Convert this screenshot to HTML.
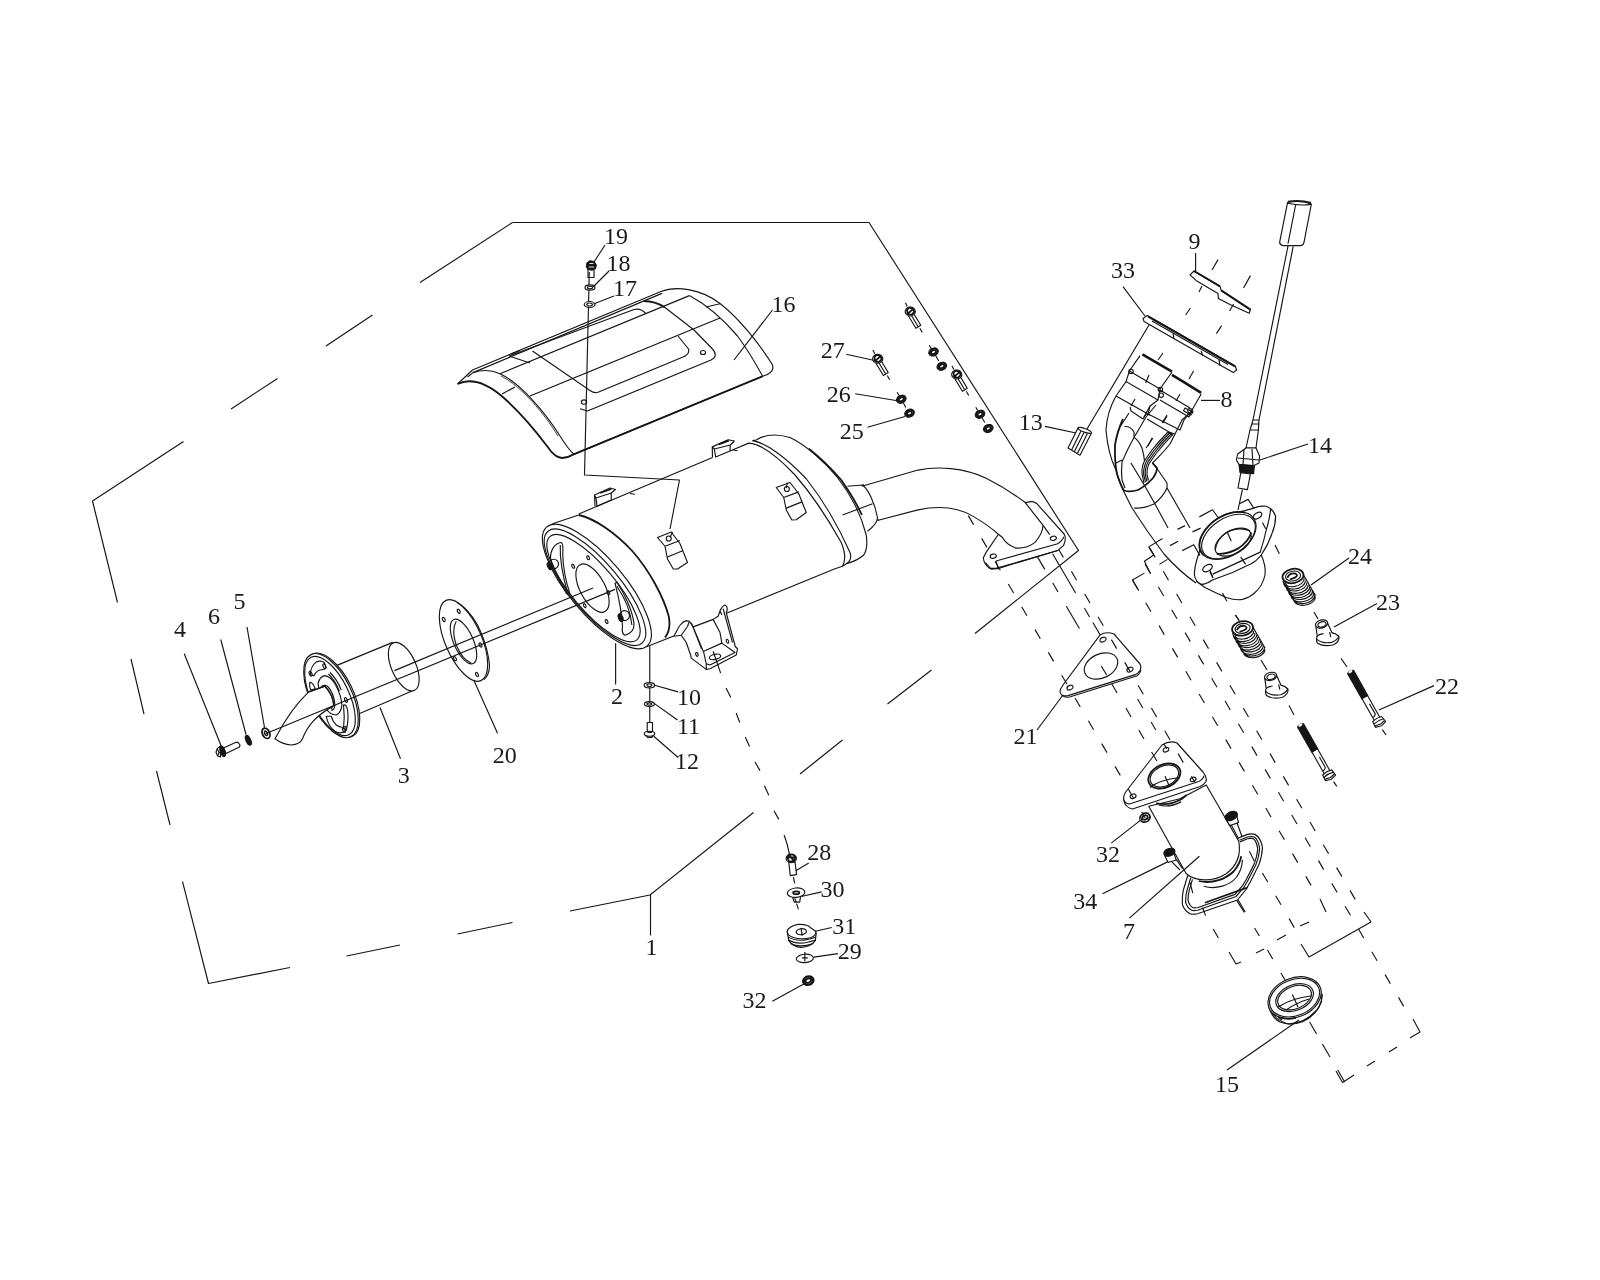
<!DOCTYPE html>
<html><head><meta charset="utf-8"><title>Exhaust assembly</title>
<style>
html,body{margin:0;padding:0;background:#fff;}
body{width:1600px;height:1280px;overflow:hidden;}
svg{display:block;will-change:transform;}
svg *{vector-effect:non-scaling-stroke;fill:none;stroke:#151515;stroke-width:1.15;stroke-linecap:butt;stroke-linejoin:round;}
svg text{fill:#1a1a1a;stroke:none;font-family:"Liberation Serif","Noto Serif CJK SC",serif;font-size:24px;}
svg .w{fill:#fff;}
svg .k{fill:#151515;}
svg .b{stroke-width:1.8;}
svg .t{stroke-width:0.8;}
svg .d{stroke-dasharray:11 6;}
</style></head><body>
<svg width="1600" height="1280" viewBox="0 0 1600 1280">
<!-- assembly boundary frame -->
<g id="frame">
<path d="M512.5,222.5 L869,222.5 L1078.5,550.5 L975,633.5"/>
<path d="M512.5,222.5 L420,282.5 M372.5,315 L326,346 M277.5,378.5 L231,409 M183.5,441.5 L92.5,501 L117.5,602.5 M131,659 L144,714 M156.5,771 L170,825 M182.5,881.5 L208.5,983.5 L290,967.5 M346.5,956 L400,945 M457.5,934 L512.5,922.5 M570,911 L650,895 L753.5,812.5 M800,774 L842.5,740 M887.5,704 L931.5,670"/>
<path d="M650.5,895 L650.5,935.5"/>
</g>
<!-- heat shield 16 and fasteners 17-19 -->
<g id="shield">
<path d="M457.5,384 Q464,378 472.5,370 L661,291.5 C675,286 700,288 720,303.5 C740,319 760,345 772,364 Q776,372 762.5,376.3 L573,454.6"/>
<path class="b" d="M573,454.6 L762.5,376.3"/>
<path d="M467.5,377 L473,372.6 L662,293.4"/>
<path d="M473,372.6 Q487,368 500,373.7 C520,383 545,412 560,436 Q568,449 573.7,454"/>
<path class="b" d="M457.5,384 C470,378 486,382 504,398 C524,416 538,434 547,446 Q555,458 562,458 Q568,458 573,454.6"/>
<path class="t" d="M501,376 C521,386 544,413 558,436"/>
<path d="M500,373.7 L689.4,295.6"/>
<path d="M530,396 L720,318 M502,394 L515,387 M706,307 L720,303.7"/>
<path d="M689.4,295.6 C705,304 722,318 737.5,336 C748,350 757,366 762.5,376"/>
<path d="M509,356 L634,309.5 Q641,308 646,313.7 M509,356 L530,363 M511,354 L520,350.5"/>
<path class="b" d="M643.7,301 Q655,301 665,307.5"/>
<path d="M665,307.5 L694,330 L712.5,349 Q717,354 714,358 L711,360 L587.5,411 L580,408.7"/>
<path d="M532.5,351 L590,390.5 Q594,393.5 598,392.3 L683,357 Q690,354 688.5,349 L678,336"/>
<ellipse cx="703" cy="352.5" rx="2.6" ry="2"/>
<ellipse cx="584" cy="402" rx="2.6" ry="2.2"/>
<!-- bolt 19, washers 18 17 -->
<path d="M589.3,272 L584.5,475 L679.5,480 L670,529"/>
<path class="k" d="M587,263 L590,260.8 L594,261.5 L596.3,265 L595.5,268.5 L592,270.3 L588,269.5 L586.3,266.5 Z"/>
<path d="M589.5,263.5 L593.5,263.5 M588.7,267 L594,267" style="stroke:#fff;stroke-width:.9"/>
<path d="M588,269.5 L588,277.5 L594,277.5 L594,269.5"/>
<ellipse class="w" cx="590" cy="287.5" rx="5" ry="2.6"/>
<ellipse cx="590" cy="287.5" rx="2.6" ry="1.3"/>
<ellipse class="w" cx="589.6" cy="304.5" rx="5.4" ry="3"/>
<ellipse cx="589.6" cy="304.5" rx="2.8" ry="1.5"/>
<path d="M605,245 L594,262 M609,271 L593,287 M614,296 L593.5,304 M772.5,310 L734,360"/>
</g>
<!-- muffler 2 front face (coords in 8x tile, origin 520,500) -->
<g id="muffler-front" transform="translate(520,500) scale(.125)">
<ellipse cx="615" cy="692" rx="623" ry="222" transform="rotate(50 615 692)"/>
<ellipse cx="600" cy="698" rx="585" ry="198" transform="rotate(50 600 698)"/>
<ellipse cx="588" cy="705" rx="540" ry="176" transform="rotate(50 588 705)"/>
<path class="b" d="M470,120 C600,150 760,260 900,410 C1040,570 1150,780 1190,930 Q1210,1040 1160,1100"/>
<path d="M260,190 L470,120 M1230,1088 L1008,1176"/>
<ellipse cx="580" cy="705" rx="212" ry="100" transform="rotate(62 580 705)"/>
<ellipse cx="545" cy="462" rx="9" ry="17" transform="rotate(-25 545 462)"/>
<ellipse cx="425" cy="530" rx="9" ry="17" transform="rotate(-25 425 530)"/>
<ellipse cx="707" cy="740" rx="9" ry="17" transform="rotate(-25 707 740)"/>
<ellipse cx="518" cy="845" rx="9" ry="17" transform="rotate(-25 518 845)"/>
<ellipse cx="693" cy="972" rx="9" ry="17" transform="rotate(-25 693 972)"/>
<path d="M245,470 C240,400 280,345 330,340 Q348,345 342,440 C345,540 370,660 397,742 L385,756 L370,746 C335,670 270,560 245,470 Z"/>
<path d="M322,360 C318,470 345,620 383,750"/>
<path d="M760,665 L776,660 C830,740 900,880 912,990 Q915,1060 840,1082 Q810,1070 820,1010 C815,900 790,780 760,665 Z"/>
<path d="M775,690 C830,770 885,890 895,1000"/>
<circle cx="270" cy="512" r="38"/>
<ellipse class="k" cx="238" cy="528" rx="17" ry="30" transform="rotate(-25 238 528)"/>
<circle cx="836" cy="925" r="40"/>
<ellipse class="k" cx="805" cy="942" rx="17" ry="32" transform="rotate(-25 805 942)"/>
</g>
<!-- muffler body rear end (coords in 8x tile, origin 700,420) -->
<g id="muffler-rear" transform="translate(700,420) scale(.125)">
<path d="M-970,752 L100,300 M240,248 L390,185 C480,190 600,270 760,440 C900,600 1040,820 1130,980 Q1180,1100 1140,1170 L1080,1190 L212,1546"/>
<path d="M420,165 C520,180 680,290 850,470 C1000,660 1120,880 1200,1060 Q1220,1120 1170,1150 L1140,1170"/>
<path d="M420,165 L450,160 C520,115 600,105 720,140 C850,200 1000,340 1100,460 C1200,590 1290,760 1330,920 Q1345,1030 1310,1080 Q1260,1125 1170,1150"/>
<path class="b" d="M870,230 C960,300 1060,400 1130,480 C1200,580 1260,680 1295,760"/>
<path d="M1180,530 L1300,520 C1350,560 1400,670 1420,780 Q1420,830 1340,890 M1140,760 L1380,670"/>
<path d="M1300,520 L1310,517 M1420,800 L1430,797"/>
<!-- side bracket rear -->
<path d="M610,540 L720,500 L790,590 L810,640 L850,740 L770,798 L735,800 L690,720 L670,620 Z M670,620 L790,575 M690,705 L815,655 M700,500 L690,545"/>
<circle cx="695" cy="552" r="20"/>
<!-- top clip rear -->
<path d="M100,300 L98,215 L225,158 L275,168 L242,200 L240,248 L125,296 L115,232 L242,200 M115,232 L98,215"/>
<path class="b" d="M150,195 L230,165"/>
<path d="M265,240 L300,246"/>
</g>
<!-- top clip front, side bracket front (4x tile origin 500,420) -->
<g transform="translate(500,420) scale(.25)">
<path d="M380,345 L378,300 L440,272 L462,278 L445,292 L445,320 L388,345 L384,312 L445,292 M384,312 L378,300"/>
<path class="b" d="M400,292 L445,276"/>
<path d="M520,294 L540,297"/>
<path d="M630,470 L685,448 L720,495 L730,520 L750,570 L710,596 L693,596 L670,556 L660,505 Z M660,505 L720,482 M670,548 L733,522 M690,448 L680,470"/>
<circle cx="675" cy="474" r="10"/>
</g>
<!-- bottom bracket, washers 10 11, bolt 12 (8x tile origin 600,590) -->
<g id="muffler-bottom" transform="translate(600,590) scale(.125)">
<path d="M125,425 L125,755 M398,450 L398,1150"/>
<ellipse class="w" cx="395" cy="762" rx="42" ry="21"/><ellipse cx="395" cy="762" rx="20" ry="10"/>
<ellipse class="w" cx="395" cy="912" rx="40" ry="19"/><ellipse cx="395" cy="912" rx="19" ry="9"/>
<path class="w" d="M378,1060 L420,1060 L420,1135 L378,1135 Z"/>
<ellipse class="w" cx="396" cy="1150" rx="42" ry="20"/>
<path d="M365,1160 L380,1180 L415,1180 L430,1160 M380,1140 L415,1140"/>
<path d="M430,760 L625,815 M430,905 L620,1040 M430,1170 L625,1340"/>
<!-- bracket -->
<path d="M590,370 C610,340 625,300 640,282 Q665,250 690,245 L715,250 L700,292 L650,362 Z"/>
<path d="M650,362 L690,420 L725,520 L730,545 L850,635 L880,630 L1090,520 L1100,470 L1082,452 L1010,182 Q1030,135 1000,120 Q975,130 960,168 L945,210 L905,235 L745,295 L715,250"/>
<path d="M745,295 L780,380 L830,500 L850,590 L850,635 M730,262 L765,350 L812,470"/>
<path d="M905,235 L960,340 L975,425 L830,490 M975,425 L1080,500 L880,600 L850,590 M985,150 L1060,420 M962,170 L975,200"/>
<ellipse cx="920" cy="535" rx="46" ry="20" transform="rotate(-12 920 535)"/>
<ellipse cx="775" cy="515" rx="9" ry="16" transform="rotate(-20 775 515)"/>
<ellipse cx="1020" cy="410" rx="9" ry="16" transform="rotate(-20 1020 410)"/>
<path d="M905,490 L965,665"/>
</g>
<!-- silencer 3 (8x tile origin 260,630) -->
<g id="silencer" transform="translate(260,630) scale(.125)">
<path d="M610,285 L1062,99 M765,682 L1212,490"/>
<ellipse cx="1150" cy="293" rx="208" ry="98" transform="rotate(66 1150 293)"/>
<ellipse class="w" cx="580" cy="521" rx="365" ry="165" transform="rotate(64 580 521)"/>
<ellipse class="w" cx="568" cy="525" rx="365" ry="165" transform="rotate(64 568 525)"/>
<ellipse cx="560" cy="528" rx="345" ry="150" transform="rotate(64 560 528)"/>
<!-- cutouts -->
<path d="M402,360 Q405,290 450,255 Q490,240 515,262 L528,300 Q515,320 490,318 Q455,320 432,365 Z"/>
<path d="M398,420 Q420,415 442,470 L405,480 Q392,450 398,420 Z"/>
<path d="M530,690 Q545,770 600,810 Q650,840 690,800 L688,770 Q650,790 610,760 Q580,730 570,690 Z"/>
<path d="M668,600 Q690,590 700,640 Q712,720 690,800 L668,790 Q680,700 668,600 Z"/>
<path d="M560,340 Q620,400 650,480 M548,352 Q605,410 635,490"/>
<path class="b" d="M590,440 Q620,490 640,545"/>
<ellipse cx="515" cy="290" rx="10" ry="20" transform="rotate(-25 515 290)"/>
<ellipse cx="405" cy="350" rx="10" ry="20" transform="rotate(-25 405 350)"/>
<ellipse cx="688" cy="560" rx="10" ry="20" transform="rotate(-25 688 560)"/>
<ellipse cx="672" cy="800" rx="10" ry="20" transform="rotate(-25 672 800)"/>
<!-- hub -->
<path class="w" d="M465,425 Q480,370 520,365 Q560,370 600,430 Q650,520 655,600 Q650,660 610,680 Q560,680 520,620 Q470,520 465,425 Z"/>
<path d="M480,470 Q500,430 540,450 Q590,500 600,600 Q595,640 570,645"/>
<path d="M500,455 Q545,470 575,560 Q585,610 570,635"/>
<!-- curved tip -->
<path class="w" d="M520,450 L390,495 C320,560 220,680 120,870 Q180,915 250,920 Q320,915 340,870 C380,770 440,690 590,605 Q585,520 520,450 Z"/>
<path d="M390,495 L520,450 Q585,520 590,605"/>
</g>
<!-- gasket 20 (4x tile origin 160,560) -->
<g id="gasket20" transform="translate(160,560) scale(.25)">
<ellipse cx="1214" cy="322" rx="175" ry="73" transform="rotate(66.5 1214 322)"/>
<path d="M1188,170 Q1230,190 1270,260 Q1310,340 1318,420 Q1318,460 1296,478"/>
<ellipse cx="1214" cy="326" rx="96" ry="39" transform="rotate(66 1214 326)"/>
<path d="M1185,245 Q1165,280 1185,340 Q1210,400 1245,412"/>
<ellipse cx="1195" cy="205" rx="5" ry="9" transform="rotate(-25 1195 205)"/>
<ellipse cx="1135" cy="238" rx="5" ry="9" transform="rotate(-25 1135 238)"/>
<ellipse cx="1282" cy="340" rx="5" ry="9" transform="rotate(-25 1282 340)"/>
<ellipse cx="1180" cy="395" rx="5" ry="9" transform="rotate(-25 1180 395)"/>
<ellipse cx="1268" cy="458" rx="5" ry="9" transform="rotate(-25 1268 458)"/>
<path d="M97,375 L244,742 M243,318 L344,698 M348,268 L418,670 M880,590 L962,795 M1255,480 L1350,693"/>
</g>
<!-- bolt 4, washer 6, nut 5 (full coords) -->
<path class="w" d="M223.5,748 L236,742.3 L238,742.3 L240,745 L239.5,747 L226,753.6 Z"/>
<path class="w" d="M220.5,746 L217.2,748.6 L216,752.2 L217.6,756 L220.5,757 Z"/>
<path d="M217.2,748.6 L219,752.5 L217.6,756 M219,752.5 L221,752.5"/>
<ellipse class="k" cx="222.6" cy="751.2" rx="2.3" ry="5.6" transform="rotate(-18 222.6 751.2)"/>
<ellipse class="k" cx="248.3" cy="740.3" rx="2.3" ry="5.3" transform="rotate(-25 248.3 740.3)"/>
<ellipse class="w" cx="266" cy="733.3" rx="3.6" ry="5.4" transform="rotate(-25 266 733.3)" style="stroke-width:1.8"/>
<ellipse cx="266" cy="733.3" rx="1.3" ry="2.4" transform="rotate(-25 266 733.3)" style="stroke-width:1.4"/>
<!-- outlet pipe + flange of muffler (6.154x tile origin 840,440) -->
<g id="outlet" transform="translate(840,440) scale(.1625)">
<path d="M135,285 L480,185 C600,160 760,170 900,235 C1000,285 1080,340 1140,385 L1185,378 L1210,390 L1380,580 Q1395,610 1375,650 L1340,680 L960,790 L920,790 Q885,765 882,725 L900,690 L975,580"/>
<path d="M230,495 L480,430 C600,405 720,410 820,470 Q920,530 975,580 L1000,600 Q1020,640 1080,665 Q1150,670 1200,630 Q1245,580 1250,525 L1140,385"/>
<path d="M1250,525 L1290,582 M895,755 L930,795 L975,790 L1340,680 M960,745 L1335,640 Q1365,625 1378,595 M960,745 L975,795"/>
<ellipse cx="943" cy="715" rx="19" ry="13" transform="rotate(-15 943 715)"/>
<ellipse cx="1313" cy="605" rx="19" ry="13" transform="rotate(-15 1313 605)"/>
</g>
<!-- fasteners 25 26 27 and their duplicates (6.667x tile origin 800,280) -->
<g id="fasteners25" transform="translate(800,280) scale(.15)">
<defs>
<g id="bolt27"><path class="w" d="M-12,30 L38,112 L70,92 L22,12 Z"/><path d="M5,22 L52,100"/><ellipse class="w" cx="0" cy="0" rx="34" ry="30"/><path class="b" d="M-22,-14 L-4,-26 L20,-18 L26,4 L8,22 L-18,16 Z M-18,16 L20,-18"/><path d="M-32,-58 L-20,-34 M64,112 L80,140"/></g>
<g id="nut26"><ellipse class="w" cx="0" cy="0" rx="33" ry="25" transform="rotate(-25)"/><ellipse class="b" cx="0" cy="0" rx="17" ry="12" transform="rotate(-25)"/><path class="b" d="M-26,8 L-18,-16 L10,-24 L28,-8 L18,14 L-8,22 Z"/></g>
</defs>
<use href="#bolt27" x="735" y="210"/>
<use href="#bolt27" x="518" y="525"/>
<use href="#bolt27" x="1045" y="630"/>
<use href="#nut26" x="890" y="480"/><use href="#nut26" x="945" y="575"/>
<use href="#nut26" x="675" y="795"/><use href="#nut26" x="730" y="888"/>
<use href="#nut26" x="1200" y="895"/><use href="#nut26" x="1255" y="990"/>
<path d="M862,435 L875,458 M905,505 L925,540 M648,748 L660,770 M690,822 L705,850 M1172,848 L1185,870 M1215,922 L1232,950"/>
<path d="M308,495 L490,535 M368,758 L650,805 M450,982 L700,910"/>
</g>
<!-- parts 8 9 33 13 14 (5x tile origin 1020,190) -->
<g id="headpipe" transform="translate(1020,190) scale(.2)">
<!-- 14 connector + wire -->
<path class="w" d="M1338,62 L1298,262 Q1300,276 1315,278 L1405,278 Q1418,275 1420,262 L1457,70 Q1400,50 1338,62 Z"/>
<path class="b" d="M1340,58 Q1400,48 1455,64"/>
<path d="M1340,66 Q1400,80 1455,72 M1378,75 L1340,268"/>
<path d="M1340,280 L1165,1150 M1366,282 L1195,1150"/>
<!-- sensor body -->
<path class="w" d="M1165,1150 L1195,1150 L1192,1200 L1180,1290 L1130,1290 L1150,1200 Z"/>
<path d="M1150,1200 L1192,1200 M1160,1170 L1196,1170"/>
<path class="w" d="M1088,1320 L1130,1290 L1180,1290 L1198,1330 L1195,1365 L1170,1378 L1095,1372 L1082,1350 Z"/>
<path d="M1088,1340 L1195,1350 M1120,1295 L1115,1372 M1160,1295 L1165,1376"/>
<path class="k" d="M1095,1374 L1172,1380 L1168,1418 L1100,1412 Z"/>
<path class="w" d="M1104,1414 L1152,1420 L1137,1498 L1090,1490 Z"/>
<path d="M1112,1498 L1090,1600"/>
<path d="M1200,1350 L1440,1270"/>
<!-- part 9 -->
<path class="w" d="M850,424 L870,405 L1000,482 L1006,502 L1152,598 L1146,616 L1050,572 L992,542 L990,518 L880,452 Z"/>
<path style="stroke-width:2" d="M870,405 L1000,482 M1006,502 L1152,598"/>
<path d="M878,315 L878,405"/>
<path d="M990,348 L960,400 M1152,428 L1118,490 M910,480 L895,510 M1068,570 L1048,605 M852,590 L828,625 M1008,678 L982,718"/>
<!-- part 33 -->
<path class="w" d="M615,642 L636,628 L1076,880 L1083,900 L1066,913 L620,657 Z"/>
<path style="stroke-width:2.2" d="M640,632 L1075,882"/>
<path d="M660,655 L1040,872 M700,665 L1000,838 M765,715 L770,745 M905,805 L915,830 M995,850 L1000,880"/>
<path d="M515,483 L625,630 M645,675 L335,1195"/>
<!-- part 13 -->
<path class="w" d="M290,1190 L240,1290 L300,1326 L356,1218 Z"/>
<ellipse class="w" cx="324" cy="1202" rx="36" ry="9" transform="rotate(20 324 1202)"/>
<path d="M305,1205 L258,1300 M320,1212 L272,1308 M337,1218 L287,1318"/>
<path d="M125,1182 L280,1215"/>
<!-- part 8 : twin pipes -->
<path style="stroke-width:2.6" d="M612,822 L760,908 M760,924 L906,1014"/>
<path d="M600,828 L547,905 L530,958 L480,1030 Q435,1110 430,1200 Q440,1320 480,1400 Q500,1470 520,1510 L560,1590 L640,1710 L720,1820 Q800,1910 880,1965"/>
<path d="M760,910 L700,995 L690,1050 L650,1080 L620,1135 M906,1020 L860,1100 L820,1150"/>
<path d="M547,905 L700,995 M530,958 L690,1050 M480,1030 L640,1120 L650,1080 M700,1000 L850,1090 M700,1050 L845,1135 L860,1100 M640,1120 L800,1200 L820,1150"/>
<circle cx="555" cy="907" r="11"/><circle cx="702" cy="997" r="11"/><circle cx="706" cy="1026" r="11"/><circle cx="850" cy="1104" r="11"/>
<path d="M905,1052 L1000,1052"/>
<path d="M715,815 L690,850 M645,925 L628,965 M868,905 L845,945 M800,1020 L780,1055 M575,1045 L555,1080 M735,1130 L715,1165 M660,1240 L640,1280"/>
</g>
<!-- collector detail (10x tile origin 1090,400) -->
<g id="collector" transform="translate(1090,400) scale(.1)">
<path class="b" d="M330,190 Q270,320 250,450 Q245,620 270,740 Q300,840 340,905 Q400,925 480,900 Q570,850 630,780 Q670,720 670,680 L625,630"/>
<path d="M390,130 L300,270 M345,265 Q410,262 440,320 L440,375 M320,600 L250,635"/>
<path d="M660,50 L560,170 L440,375 Q370,500 320,620 Q310,720 320,800 L350,880"/>
<path d="M440,375 Q480,395 520,480 Q540,550 545,610"/>
<path d="M780,320 Q690,410 620,500 L550,600 Q515,660 520,740 L540,830 M795,330 Q705,420 635,510 L565,612 Q533,668 536,745 L555,822 M810,340 Q720,430 650,520 L580,622 Q550,672 552,745 L570,815 M825,348 Q735,440 665,530 L595,630 Q568,676 570,745 L585,805"/>
<path class="b" d="M780,320 L830,350"/>
<path d="M1030,100 L920,200 L850,340 L800,440 Q720,540 625,630 L680,700 L770,830 L770,880 L1000,1280"/>
<path d="M400,70 L410,110 L530,190 L560,140 L600,150 M570,190 L790,320 L850,340 M950,80 L1030,120 L1010,150 L935,108 Z"/>
<path d="M440,1080 Q530,1090 640,1040 Q730,970 770,880"/>
<path d="M410,630 L560,880 L650,1040 L780,1280 M560,480 L630,380 M720,230 L770,150"/>
</g>
<!-- head pipe lower flange + cup (8x tile origin 1120,480) -->
<g id="headflange" transform="translate(1120,480) scale(.125)">
<path d="M935,258 L1000,245 L1070,225 Q1110,205 1170,210 Q1225,230 1245,290 Q1245,360 1215,430 Q1185,520 1130,600 Q1090,650 1050,670 L900,740 L740,800 Q690,835 650,835 Q605,815 595,760 Q595,700 620,620 L640,560"/>
<path d="M1205,225 Q1200,300 1170,400 Q1150,490 1122,577 L742,753 M720,722 L742,780"/>
<path d="M610,810 L680,860 Q780,910 850,940 Q930,965 980,955 Q1040,940 1080,900 Q1140,850 1160,760 Q1170,690 1130,600"/>
<ellipse cx="862" cy="445" rx="250" ry="158" transform="rotate(-33 862 445)"/>
<path class="b" d="M670,602 A250,158 -33 0 1 1001,261"/>
<ellipse cx="868" cy="452" rx="238" ry="146" transform="rotate(-33 868 452)"/>
<ellipse cx="905" cy="497" rx="158" ry="92" transform="rotate(-30 905 497)"/>
<path class="b" d="M775,590 Q850,600 950,545 Q1030,490 1050,420"/>
<path d="M762,560 Q770,480 850,420 Q940,370 1040,405"/>
<ellipse cx="1100" cy="285" rx="38" ry="22" transform="rotate(-30 1100 285)"/>
<ellipse cx="700" cy="705" rx="42" ry="24" transform="rotate(-30 700 705)"/>
<!-- step lines -->
<path d="M955,190 L1025,155 L1070,225 M635,295 L740,238 L785,300 M460,395 L520,365 M580,415 L645,385 M340,468 L230,535 L270,600 L195,650 L245,750 M400,525 L465,490 M498,565 L590,518 L640,605 M315,675 L380,635 M195,745 L100,800 L150,885"/>
<path d="M820,905 L855,970 M925,1080 L955,1130 M1240,520 L1275,590 M1140,340 L1165,390 M965,615 L1005,675 M860,420 L890,490 M720,735 L745,785"/>
</g>
<!-- springs 24, collars 23, bolts 22 (5x tile origin 1200,540) -->
<g id="springs" transform="translate(1200,540) scale(.2)">
<defs>
<g id="spring24">
<path class="w" d="M-52,5 L13,110 L118,100 L52,-5 Z" style="stroke:none"/>
<path d="M-50,26 A52,36 -12 0 0 56,12 M-46,38 A52,36 -12 0 0 62,24 M-38,48 A52,36 -12 0 0 70,34 M-34,60 A52,36 -12 0 0 76,46 M-26,70 A52,36 -12 0 0 84,56 M-22,82 A52,36 -12 0 0 90,68 M-14,92 A52,36 -12 0 0 98,78 M-10,104 A52,36 -12 0 0 104,90 M-2,114 A52,36 -12 0 0 110,100 M4,124 A50,34 -12 0 0 112,112"/>
<path d="M-52,6 L-2,114 M52,-6 L112,104"/>
<ellipse class="w b" cx="0" cy="0" rx="53" ry="38" transform="rotate(-12)"/>
<ellipse cx="0" cy="0" rx="38" ry="26" transform="rotate(-12)"/>
<path class="b" d="M-28,10 Q-20,-16 8,-14 Q28,-6 14,6 Q-4,16 -16,18"/>
</g>
<g id="collar23">
<path class="w" d="M-30,2 L-22,60 Q-30,80 -20,96 Q10,116 60,104 Q92,86 86,62 Q70,46 52,44 L30,-4 Z"/>
<ellipse class="w" cx="0" cy="0" rx="31" ry="20" transform="rotate(-15)"/>
<ellipse cx="2" cy="2" rx="21" ry="13" transform="rotate(-15 2 2)"/>
<path d="M-22,60 Q-10,50 10,48 M52,44 Q70,46 86,62 M-26,74 Q0,100 50,92 Q80,80 86,62 M40,40 L46,66"/>
</g>
<g id="bolt22">
<path class="w" d="M148,-16 L280,-16 L280,16 L148,16 Z"/>
<path class="k" d="M6,-17 L150,-17 L150,17 L6,17 Q-6,0 6,-17 Z"/>
<ellipse class="w" cx="4" cy="0" rx="6" ry="11" style="stroke:none"/>
<path d="M190,-4 L250,-4 L258,6 L258,14"/>
<path class="w" d="M276,-26 L308,-30 L316,-2 L308,28 L276,26 Q268,0 276,-26 Z"/>
<path d="M290,-28 Q282,0 290,27 M300,-29 L306,-2 L300,28"/>
</g>
</defs>
<use href="#spring24" transform="translate(465,180) scale(1,.94)"/>
<use href="#spring24" transform="translate(213,442) scale(1,.94)"/>
<use href="#collar23" x="608" y="420"/>
<use href="#collar23" x="353" y="682"/>
<use href="#bolt22" transform="translate(750,655) rotate(60.5)"/>
<use href="#bolt22" transform="translate(500,922) rotate(60.5)"/>
<path d="M570,360 L590,395 M705,592 L735,635 M912,948 L930,975 M175,375 L195,400 M305,600 L335,650 M445,828 L470,875 M668,1208 L684,1232"/>
<path d="M745,90 L555,225 M885,318 L670,435 M1170,728 L895,850"/>
</g>
<!-- gasket 21 + part 7 upper flange (5x tile origin 960,580) -->
<g id="gasket21" transform="translate(960,580) scale(.2)">
<path class="w" d="M700,275 Q730,255 770,270 L900,420 Q912,445 890,465 L880,472 L540,578 Q505,585 500,560 Q500,545 515,525 Z"/>
<path d="M508,574 Q525,590 548,585 L886,479 Q902,468 905,450"/>
<ellipse cx="705" cy="430" rx="88" ry="60" transform="rotate(-25 705 430)"/>
<ellipse cx="715" cy="298" rx="16" ry="11" transform="rotate(-25 715 298)"/>
<ellipse cx="850" cy="448" rx="16" ry="11" transform="rotate(-25 850 448)"/>
<ellipse cx="550" cy="538" rx="16" ry="11" transform="rotate(-25 550 538)"/>
<path d="M385,750 L515,575"/>
</g>
<!-- part 7 body (8x tile origin 1100,770) -->
<g id="part7" transform="translate(1100,770) scale(.125)">
<!-- lower flange ring -->
<path class="w" d="M1105,545 L1180,515 Q1215,508 1240,515 Q1285,540 1300,620 Q1295,700 1270,760 L1200,900 L1165,960 L1100,1040 L780,1150 Q740,1158 720,1150 Q680,1130 660,1080 Q655,1000 670,950 L700,850 Z"/>
<path d="M1115,562 L1180,536 Q1212,530 1235,536 Q1268,560 1277,630 Q1272,700 1246,760 L1180,890 L1150,940 L1088,1012 L780,1122 Q745,1128 730,1120 Q700,1105 685,1060 Q683,1000 700,950 L726,862"/>
<path d="M1120,575 L1180,550 Q1210,545 1228,550 Q1255,575 1262,635 Q1255,700 1232,755 L1168,880 L1140,925 L1080,995 L785,1100 Q750,1105 740,1100 Q715,1085 705,1050 Q703,1000 716,955 L740,875"/>
<path class="b" d="M1180,940 L900,1040 L840,1062"/>
<path d="M1195,650 L1235,730 M720,900 L742,985 M820,1100 L845,1165 M1095,1045 L1155,1140"/>
<!-- tube -->
<path class="w" d="M390,290 L690,830 C760,890 900,900 1010,830 C1090,770 1130,680 1110,570 L850,120 L640,230 Z"/>
<path class="b" d="M790,888 C900,915 1010,870 1070,810 Q1120,750 1130,690"/>
<path d="M830,930 C930,960 1040,920 1090,860 Q1135,800 1140,720"/>
<!-- upper flange -->
<path class="w" d="M496,-200 Q560,-240 616,-216 L824,16 Q858,60 848,92 Q830,120 800,132 L260,312 Q200,300 190,240 Q182,200 225,150 Z"/>
<ellipse cx="528" cy="-163" rx="24" ry="17" transform="rotate(-25 528 -163)"/>
<path d="M192,242 Q205,270 235,272 L790,92 Q825,75 832,45"/>
<path class="b" d="M450,265 Q540,290 640,240 Q680,215 692,198"/>
<path d="M470,280 Q550,305 650,255"/>
<ellipse cx="745" cy="75" rx="24" ry="17" transform="rotate(-25 745 75)"/>
<ellipse cx="265" cy="210" rx="24" ry="17" transform="rotate(-25 265 210)"/>
<ellipse class="b" cx="515" cy="48" rx="135" ry="92" transform="rotate(-25 515 48)"/>
<ellipse cx="515" cy="48" rx="120" ry="80" transform="rotate(-25 515 48)"/>
<path d="M400,140 Q470,80 640,60 M520,50 L555,130"/>
<!-- nut 32 -->
<ellipse class="w" cx="360" cy="382" rx="44" ry="36" transform="rotate(-25 360 382)"/>
<ellipse class="b" cx="360" cy="380" rx="22" ry="17" transform="rotate(-25 360 380)"/>
<path d="M322,372 L345,345 L385,345 L400,375 L382,412 L340,415 Z M320,405 L90,585"/>
<!-- bolt 34 left -->
<path class="w" d="M520,690 L545,740 L610,720 L590,665 Z"/>
<path d="M575,735 L640,800 M610,715 L660,790"/>
<ellipse class="k" cx="555" cy="658" rx="46" ry="30" transform="rotate(-20 555 658)"/>
<path d="M540,735 L20,990"/>
<!-- bolt right -->
<path class="w" d="M1010,400 L1040,445 L1108,420 L1095,370 Z"/>
<path d="M1050,440 L1108,548 M1095,420 L1135,530"/>
<ellipse class="k" cx="1050" cy="368" rx="52" ry="34" transform="rotate(-25 1050 368)"/>
<path d="M795,690 L235,1185"/>
</g>
<!-- parts 28 30 31 29 32 (6.4x tile origin 720,820) -->
<g id="mount28" transform="translate(720,820) scale(.15625)">
<path d="M410,96 Q432,150 445,222"/>
<path class="w" d="M440,272 L450,356 L490,350 L480,268 Z"/>
<ellipse class="w" cx="456" cy="246" rx="33" ry="27"/>
<path class="b" d="M430,238 L442,222 L470,222 L484,240 L474,264 L442,266 Z M442,222 L474,264 M430,238 L484,240"/>
<path d="M470,365 L478,405 M568,275 L485,325"/>
<path class="w" d="M462,488 L475,526 L510,526 L516,488 Z"/>
<ellipse class="w" cx="487" cy="465" rx="56" ry="30" transform="rotate(-5 487 465)"/>
<ellipse class="b" cx="488" cy="466" rx="20" ry="9"/>
<path d="M478,500 L488,526 M490,535 L502,572 M650,460 L520,490"/>
<path class="w" d="M430,715 L440,772 Q470,815 520,815 Q580,812 610,772 L616,722 Z"/>
<path d="M436,748 Q500,790 612,750 M440,768 Q505,808 610,768 M452,790 Q510,822 598,790"/>
<path class="w" d="M430,712 Q440,680 500,668 Q560,665 580,690 L612,712 Q620,735 585,752 Q520,768 470,752 Q430,740 430,712 Z"/>
<ellipse cx="520" cy="715" rx="33" ry="19" transform="rotate(-8 520 715)"/>
<path d="M518,690 L526,740 M715,688 L610,712"/>
<ellipse class="w" cx="543" cy="886" rx="55" ry="27" transform="rotate(-4 543 886)"/>
<path d="M543,845 L543,905 M525,882 L562,882 M755,855 L600,878"/>
<ellipse class="w b" cx="565" cy="1028" rx="35" ry="28" transform="rotate(-20 565 1028)"/>
<ellipse class="b" cx="565" cy="1028" rx="18" ry="13" transform="rotate(-20 565 1028)"/>
<path class="b" d="M536,1020 L552,1003 L582,1006 L596,1030 L580,1052 L548,1050 Z"/>
<path d="M335,1160 L545,1045"/>
</g>
<!-- ring gasket 15 (5x tile origin 1120,820) -->
<g id="ring15" transform="translate(1120,820) scale(.2)">
<path class="w" d="M745,935 Q760,990 800,1010 Q850,1030 910,1010 Q985,975 1008,905 L1005,860 L745,900 Z"/>
<path d="M790,985 L810,1000 M745,935 Q770,1000 840,1020 Q920,1020 985,950 Q1010,915 1012,870"/>
<ellipse class="w" cx="873" cy="888" rx="138" ry="98" transform="rotate(-22 873 888)"/>
<ellipse cx="873" cy="888" rx="130" ry="90" transform="rotate(-22 873 888)"/>
<ellipse cx="873" cy="888" rx="98" ry="64" transform="rotate(-22 873 888)"/>
<ellipse cx="873" cy="888" rx="88" ry="56" transform="rotate(-22 873 888)"/>
<path d="M790,935 Q860,890 955,880 M830,950 Q880,915 945,895 M862,872 L890,935"/>
<path class="b" d="M790,985 Q840,1000 880,990"/>
<path d="M895,1000 L535,1250"/>
</g>
<!-- parallel dashed axis lines (generated) -->
<path d="M968.3,515.6 L973.6,524.6 M981.7,538.4 L986.9,547.4 M995.0,561.2 L1000.3,570.2 M1008.3,584.0 L1013.6,593.0 M1021.7,606.8 L1026.9,615.8 M1035.0,629.6 L1040.3,638.6 M1048.4,652.4 L1053.6,661.4 M1061.7,675.2 L1067.0,684.2 M1075.0,698.0 L1080.3,707.0 M1088.4,720.8 L1093.6,729.8 M1101.7,743.6 L1107.0,752.6 M1115.0,766.4 L1120.3,775.4 M1128.4,789.2 L1133.6,798.2 M1141.7,812.0 L1145.2,818.0 M1059.0,550.0 L1063.3,557.4 M1071.4,571.2 L1076.6,580.2 M1084.7,594.0 L1090.0,603.0 M1098.0,616.8 L1103.3,625.8 M1111.4,639.6 L1116.6,648.6 M1124.7,662.4 L1130.0,671.4 M1138.0,685.2 L1143.3,694.2 M1151.4,708.0 L1156.6,717.0 M1164.7,730.8 L1170.0,739.8 M1178.1,753.6 L1183.3,762.6 M1191.4,776.4 L1194.7,782.0 M1132.4,580.0 L1137.7,589.0 M1145.7,602.8 L1151.0,611.8 M1159.1,625.6 L1164.3,634.6 M1172.4,648.4 L1177.7,657.4 M1185.8,671.2 L1191.0,680.2 M1199.1,694.0 L1204.4,703.0 M1212.4,716.8 L1217.7,725.8 M1225.8,739.6 L1231.0,748.6 M1239.1,762.4 L1244.4,771.4 M1252.4,785.2 L1257.7,794.2 M1265.8,808.0 L1271.0,817.0 M1279.1,830.8 L1284.4,839.8 M1292.5,853.6 L1297.7,862.6 M1305.8,876.4 L1311.1,885.4 M1145.1,564.2 L1150.3,573.2 M1158.4,587.0 L1163.7,596.0 M1171.7,609.8 L1177.0,618.8 M1185.1,632.6 L1190.3,641.6 M1198.4,655.4 L1203.7,664.4 M1211.7,678.2 L1217.0,687.2 M1225.1,701.0 L1230.3,710.0 M1238.4,723.8 L1243.7,732.8 M1251.8,746.6 L1257.0,755.6 M1265.1,769.4 L1270.4,778.4 M1278.4,792.2 L1283.7,801.2 M1291.8,815.0 L1297.0,824.0 M1305.1,837.8 L1310.4,846.8 M1318.5,860.6 L1323.7,869.6 M1331.8,883.4 L1337.1,892.4 M1345.1,906.2 L1350.4,915.2 M1358.5,929.0 L1363.7,938.0 M1371.8,951.8 L1377.1,960.8 M1385.1,974.6 L1390.4,983.6 M1398.5,997.4 L1403.7,1006.4 M1149.9,548.4 L1155.2,557.4 M1163.3,571.2 L1168.5,580.2 M1176.6,594.0 L1181.9,603.0 M1189.9,616.8 L1195.2,625.8 M1203.3,639.6 L1208.5,648.6 M1216.6,662.4 L1221.9,671.4 M1229.9,685.2 L1235.2,694.2 M1243.3,708.0 L1248.5,717.0 M1256.6,730.8 L1261.9,739.8 M1270.0,753.6 L1275.2,762.6 M1283.3,776.4 L1288.6,785.4 M1296.6,799.2 L1301.9,808.2 M1310.0,822.0 L1315.2,831.0 M1323.3,844.8 L1328.6,853.8 M1336.6,867.6 L1341.9,876.6 M1350.0,890.4 L1355.2,899.4 M1262.4,873.0 L1267.7,882.0 M1275.7,895.8 L1281.0,904.8 M1289.1,918.6 L1294.3,927.6 M1213.2,929.0 L1218.4,938.0 M1037.5,556.9 L1044.8,569.4 M1052.8,583.0 L1058.0,592.0 M1066.3,606.2 L1079.4,628.5 M1101.3,666.0 L1106.6,675.0 M1111.8,684.0 L1117.1,693.0 M1125.9,708.0 L1131.1,717.0 M1138.8,730.0 L1144.0,739.0 M1151.6,752.0 L1156.9,761.0 M1238.2,900.0 L1245.2,912.0 M1254.6,928.0 L1259.3,936.0 M1267.5,950.0 L1272.7,959.0 M1280.9,973.0 L1285.6,981.0 M1309.6,1022.0 L1316.6,1034.0 M1322.4,1044.0 L1330.0,1057.0 M1337.7,1070.0 L1344.7,1082.0 M1052.6,553.7 L1075.6,593.0 M1084.4,608.0 L1089.6,617.0 M1092.9,622.5 L1100.2,635.0 M1137.6,699.0 L1142.9,708.0 M1151.1,722.0 L1155.8,730.0 M1163.9,744.0 L1166.9,749.0"/>
<path d="M1320,899 L1326,912 M1300,926 L1309,922 M1277,940 L1286,935 M1256,953 L1264,949 M1229,952 L1236,964 L1241,962"/>
<path d="M1364,912 L1371,922 L1309,957 L1301,944"/>
<path d="M1413,1019 L1420,1032 L1410,1038 M1397,1047 L1389,1052 M1375,1061 L1367,1066 M1354,1075 L1342.5,1082.5 L1336,1071"/>
<path d="M726,688 L730.8,697.5 M736.2,713 L739.7,722.5 M745.3,737 L749.5,746.4 M755,762 L760,770.6 M764.4,785.8 L768.8,795.2 M774,810.8 L778.8,819.4"/>
<!-- axis lines drawn on top -->
<path d="M394.4,670.6 L593,588 M265.6,733.7 L615,589.4"/>
<!-- callout numbers -->
<g id="labels">
<text x="604.0" y="244.2">19</text>
<text x="606.5" y="270.5">18</text>
<text x="613.0" y="296.0">17</text>
<text x="771.5" y="311.5">16</text>
<text x="610.9" y="704.2">2</text>
<text x="677.0" y="704.9">10</text>
<text x="677.0" y="733.5">11</text>
<text x="675.0" y="768.6">12</text>
<text x="174.0" y="636.8">4</text>
<text x="208.0" y="624.2">6</text>
<text x="233.5" y="609.2">5</text>
<text x="397.8" y="782.5">3</text>
<text x="492.8" y="762.5">20</text>
<text x="820.8" y="358.2">27</text>
<text x="826.8" y="401.7">26</text>
<text x="839.8" y="438.8">25</text>
<text x="1018.8" y="429.8">13</text>
<text x="1188.6" y="248.9">9</text>
<text x="1111.0" y="278.1">33</text>
<text x="1220.6" y="406.9">8</text>
<text x="1308.0" y="452.9">14</text>
<text x="1348.0" y="564.1">24</text>
<text x="1376.0" y="609.5">23</text>
<text x="1435.0" y="694.1">22</text>
<text x="1013.4" y="744.1">21</text>
<text x="807.3" y="859.5">28</text>
<text x="820.5" y="896.8">30</text>
<text x="832.3" y="933.8">31</text>
<text x="837.8" y="958.8">29</text>
<text x="742.4" y="1008.0">32</text>
<text x="1096.0" y="862.0">32</text>
<text x="1073.2" y="909.0">34</text>
<text x="1123.0" y="938.5">7</text>
<text x="1215.0" y="1092.0">15</text>
<text x="645.5" y="955.3">1</text>
</g>
</svg>
</body></html>
